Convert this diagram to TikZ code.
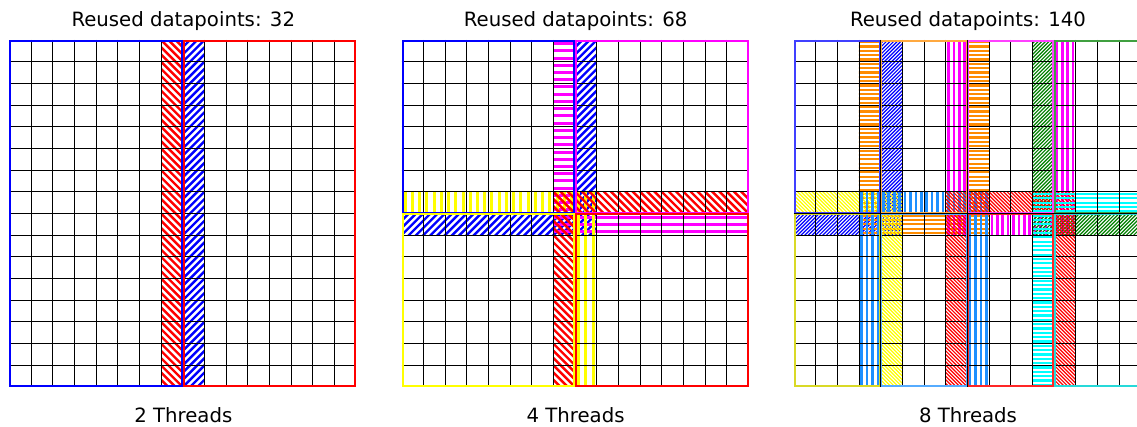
\documentclass[tikz,border=0pt]{standalone}
\usepackage{fontspec}
\setmainfont{DejaVu Sans}

\definecolor{cBlue}{RGB}{0,0,255}
\definecolor{cRed}{RGB}{255,0,0}
\definecolor{cMagenta}{RGB}{255,0,255}
\definecolor{cYellow}{RGB}{255,255,0}
\definecolor{cOrange}{RGB}{255,140,0}
\definecolor{cGreen}{RGB}{0,128,0}
\definecolor{cDodger}{RGB}{30,144,255}
\definecolor{cCyan}{RGB}{0,255,255}

\tikzset{
  gridline/.style={black, line width=0.9pt},
  bigbox/.style={line width=2pt},
  smallbox/.style={line width=1.6pt},
  caption/.style={anchor=base, inner sep=0pt, font=\fontsize{19.7}{22}\selectfont},
}

% inset of the thread outlines, in cell units (about one pixel)
\def\ins{0.046}
\newcommand\threadbox[5]{\draw[#1] ({#2+\ins},{#3+\ins}) rectangle ({#4-\ins},{#5-\ins});}
\newcommand\panelclip{\clip ({\ins},{\ins}) rectangle ({16-\ins},{16-\ins});}

% hatch fills: #1 colour, #2 lines per cell, #3 line width, #4 clip region
\newcommand\hatchNE[4]{%
  \begin{scope}
    \panelclip
    \clip #4;
    \pgfmathtruncatemacro\kmax{32*#2}%
    \draw[#1, line width=#3] \foreach \k in {0,...,\kmax} {({\k/#2-16},16) -- ({\k/#2},0)};
  \end{scope}}
\newcommand\hatchNW[4]{%
  \begin{scope}
    \panelclip
    \clip #4;
    \pgfmathtruncatemacro\kmax{16*#2}%
    \draw[#1, line width=#3] \foreach \k in {-\kmax,...,\kmax} {({\k/#2},0) -- ({\k/#2+16},16)};
  \end{scope}}
\newcommand\hatchH[4]{%
  \begin{scope}
    \panelclip
    \clip #4;
    \pgfmathtruncatemacro\kmax{16*#2}%
    \draw[#1, line width=#3] \foreach \k in {0,...,\kmax} {(0,{(\k+0.5)/#2}) -- (16,{(\k+0.5)/#2})};
  \end{scope}}
\newcommand\hatchV[4]{%
  \begin{scope}
    \panelclip
    \clip #4;
    \pgfmathtruncatemacro\kmax{16*#2}%
    \draw[#1, line width=#3] \foreach \k in {0,...,\kmax} {({(\k+0.5)/#2},0) -- ({(\k+0.5)/#2},16)};
  \end{scope}}

% inner grid lines; the outer frame is formed by the thread outlines
\newcommand\cellgrid{%
  \foreach \i in {1,...,15} {
    \draw[gridline] (\i,0) -- (\i,16);
    \draw[gridline] (0,\i) -- (16,\i);
  }}

\begin{document}
\begin{tikzpicture}[x=1pt, y=-1pt]
\useasboundingbox (0,0) rectangle (1137,427);
\clip (0,0) rectangle (1137,427);
\fill[white] (0,0) rectangle (1137,427);

% ---------- 2 threads ----------
\begin{scope}[xshift=9.3pt, yshift=-40pt, x=21.6875pt, y=-21.6875pt]
  \hatchNE{cBlue}{3}{2.4pt}{(8,0) rectangle (9,16)}
  \hatchNW{cRed}{3}{2.4pt}{(7,0) rectangle (8,16)}
  \cellgrid
  \threadbox{bigbox, cBlue}{0}{0}{8}{16}
  \threadbox{bigbox, cRed}{8}{0}{16}{16}
\end{scope}

% ---------- 4 threads ----------
\begin{scope}[xshift=401.6pt, yshift=-40pt, x=21.6875pt, y=-21.6875pt]
  \hatchNE{cBlue}{3}{2.4pt}{(8,0) rectangle (9,9) (0,8) rectangle (8,9)}
  \hatchH{cMagenta}{3}{3pt}{(7,0) rectangle (8,9) (8,8) rectangle (16,9)}
  \hatchV{cYellow}{3}{3pt}{(0,7) rectangle (9,8) (8,8) rectangle (9,16)}
  \hatchNW{cRed}{3}{2.4pt}{(7,7) rectangle (16,8) (7,8) rectangle (8,16)}
  \cellgrid
  \threadbox{bigbox, cBlue}{0}{0}{8}{8}
  \threadbox{bigbox, cMagenta}{8}{0}{16}{8}
  \threadbox{bigbox, cYellow}{0}{8}{8}{16}
  \threadbox{bigbox, cRed}{8}{8}{16}{16}
\end{scope}

% ---------- 8 threads ----------
\begin{scope}[xshift=793.9pt, yshift=-40pt, x=21.6875pt, y=-21.6875pt]
  \hatchNE{cBlue}{6}{1.2pt}{(4,0) rectangle (5,9) (0,8) rectangle (4,9)}
  \hatchH{cOrange}{5}{2.2pt}{(3,0) rectangle (4,9) (8,0) rectangle (9,9) (4,8) rectangle (8,9)}
  \hatchV{cMagenta}{4}{2.6pt}{(7,0) rectangle (8,9) (12,0) rectangle (13,9) (8,8) rectangle (12,9)}
  \hatchNE{cGreen}{6}{1.2pt}{(11,0) rectangle (12,9) (12,8) rectangle (16,9)}
  \hatchNW{cYellow}{6}{1.2pt}{(0,7) rectangle (5,8) (4,8) rectangle (5,16)}
  \hatchV{cDodger}{4}{2.6pt}{(3,7) rectangle (9,8) (3,8) rectangle (4,16) (8,8) rectangle (9,16)}
  \hatchNW{cRed}{6}{1.2pt}{(7,7) rectangle (13,8) (7,8) rectangle (8,16) (12,8) rectangle (13,16)}
  \hatchH{cCyan}{5}{2.2pt}{(11,7) rectangle (16,8) (11,8) rectangle (12,16)}
  \cellgrid
  \threadbox{smallbox, cBlue!75!white}{0}{0}{4}{8}
  \threadbox{smallbox, cOrange!75!white}{4}{0}{8}{8}
  \threadbox{smallbox, cMagenta!75!white}{8}{0}{12}{8}
  \threadbox{smallbox, cGreen!75!white}{12}{0}{16}{8}
  \threadbox{smallbox, cYellow!70!gray}{0}{8}{4}{16}
  \threadbox{smallbox, cDodger!75!white}{4}{8}{8}{16}
  \threadbox{smallbox, cRed!85!white}{8}{8}{12}{16}
  \threadbox{smallbox, cCyan!70!gray}{12}{8}{16}{16}
\end{scope}

% ---------- titles and captions ----------
\node[caption] (title1) at (183.3,26.7) {Reused datapoints: 32};
\node[caption] (title2) at (575.6,26.7) {Reused datapoints: 68};
\node[caption] (title3) at (968.0,26.7) {Reused datapoints: 140};
\node[caption] (cap1) at (183.3,422) {2 Threads};
\node[caption] (cap2) at (575.6,422) {4 Threads};
\node[caption] (cap3) at (968.0,422) {8 Threads};
\end{tikzpicture}
\end{document}
